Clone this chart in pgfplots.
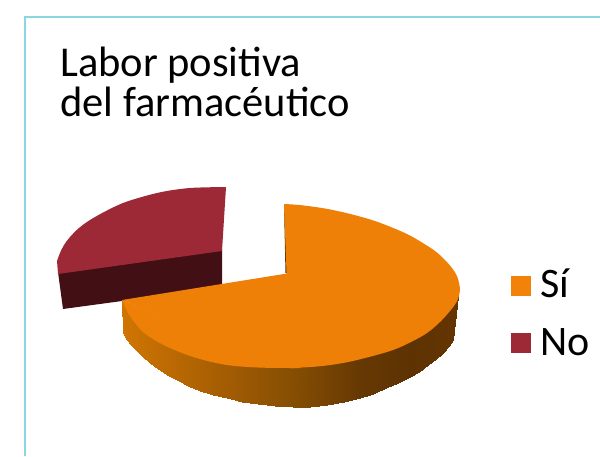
\documentclass[border=0pt]{standalone}
\usepackage{pgfplots}
\pgfplotsset{compat=1.18}
\usepackage{fontspec}
\setmainfont{Carlito}
\definecolor{orangetop}{RGB}{238,128,8}
\definecolor{orangeleg}{RGB}{243,130,8}
\definecolor{redtop}{RGB}{157,41,54}
\definecolor{redside}{RGB}{66,15,20}
\definecolor{sliver}{RGB}{94,51,3}
\definecolor{frameblue}{RGB}{140,214,226}
\begin{document}
\begin{tikzpicture}
\begin{axis}[
  scale only axis, width=600pt, height=456pt,
  xmin=0, xmax=600, ymin=0, ymax=456, y dir=reverse,
  hide axis, clip=true,
  colormap={sideshade}{rgb255(0pt)=(208,117,3); rgb255(55pt)=(184,104,3); rgb255(105pt)=(163,92,3); rgb255(171pt)=(133,78,3); rgb255(238pt)=(102,56,3); rgb255(288pt)=(94,51,2); rgb255(337pt)=(99,53,2)}
]
\path[use as bounding box] (axis cs:0,0) rectangle (axis cs:600,456);
% frame
\addplot[draw=frameblue, line width=2pt] coordinates {(25,456) (25,17) (600,17)};
% red slice: side, top
\addplot[fill=redside, draw=none] coordinates {(58,272) (222,249) (222,286) (122,301) (63,309)} -- cycle;
\addplot[fill=redtop, draw=none, smooth, tension=0.6] coordinates {(226,187) (208,187.3) (190,188) (173,190) (157,193) (140,197.5) (123,203) (106,211) (90,220) (79,228) (70,237) (64,245) (60,253) (57,261)};
\addplot[fill=redtop, draw=none] coordinates {(226,187) (200,195) (100,225) (57,261) (58,274) (222,251)} -- cycle;
% orange inner sliver
\addplot[fill=sliver, draw=none] coordinates {(284,205) (285.5,273) (289,273)} -- cycle;
% orange side
\addplot[surf, shader=interp, mesh/rows=2, mesh/ordering=x varies, point meta=x, point meta min=122, point meta max=459] table {
122 300
126 306
130 312
136 319
143 325
150 331
158 336
167 341
177 345
188 349
200 353
213 356
227 358
242 360
258 361
275 362
293 362
310 361
327 360
344 358
360 356
373 353
386 350
398 346
410 341
419 336
428 330
436 324
443 318
450 308
458 296
123 333
127 340
131 345
137 351
143 357
150 363
158 369
167 375
177 380
188 386
200 391
213 395
227 398
242 401.5
258 404
275 406
293 407
310 406.5
327 405
344 402
360 398
373 393.5
386 388
398 383
410 377
419 371.5
428 365
436 359
443 353
449 346
453 340
};
% orange top, in three pieces of one colour
\addplot[fill=orangetop, draw=none] coordinates {(122,300) (287,273.5) (300,260) (300,368) (290,368)} -- cycle;
\addplot[fill=orangetop, draw=none, smooth, tension=0.6] coordinates {(284,204) (296,204.7) (308,206) (325,208.5) (342,212) (358,216) (375,221) (392,227.5) (408,234.5) (422,242.5) (435,251) (444,259) (452,268) (457,276) (459,283) (460,290) (459,296) (456,303) (450,311) (440,322) (427,333) (411,342) (393,350) (369,357) (343,363) (317,366.5) (290,368)};
\addplot[fill=orangetop, draw=none, smooth, tension=0.6] coordinates {(295,368) (290,368) (258,367.5) (227,365) (200,359) (177,351) (158,342) (143,332) (135,323) (128,313) (122,300)};
% legend swatches
\addplot[fill=orangeleg, draw=none] coordinates {(511,276) (531,276) (531,296) (511,296)} -- cycle;
\addplot[fill=redtop, draw=none] coordinates {(511,333) (531,333) (531,353) (511,353)} -- cycle;
% texts
\node[anchor=base west, inner sep=0pt, font=\fontsize{42.5}{42}\selectfont] at (axis cs:60,76) {Labor positiva};
\node[anchor=base west, inner sep=0pt, font=\fontsize{42.5}{42}\selectfont] at (axis cs:60,116) {del farmacéutico};
\node[anchor=base west, inner sep=0pt, font=\fontsize{42}{42}\selectfont] at (axis cs:540,297) {Sí};
\node[anchor=base west, inner sep=0pt, font=\fontsize{42}{42}\selectfont] at (axis cs:540,355) {No};
\end{axis}
\end{tikzpicture}
\end{document}
